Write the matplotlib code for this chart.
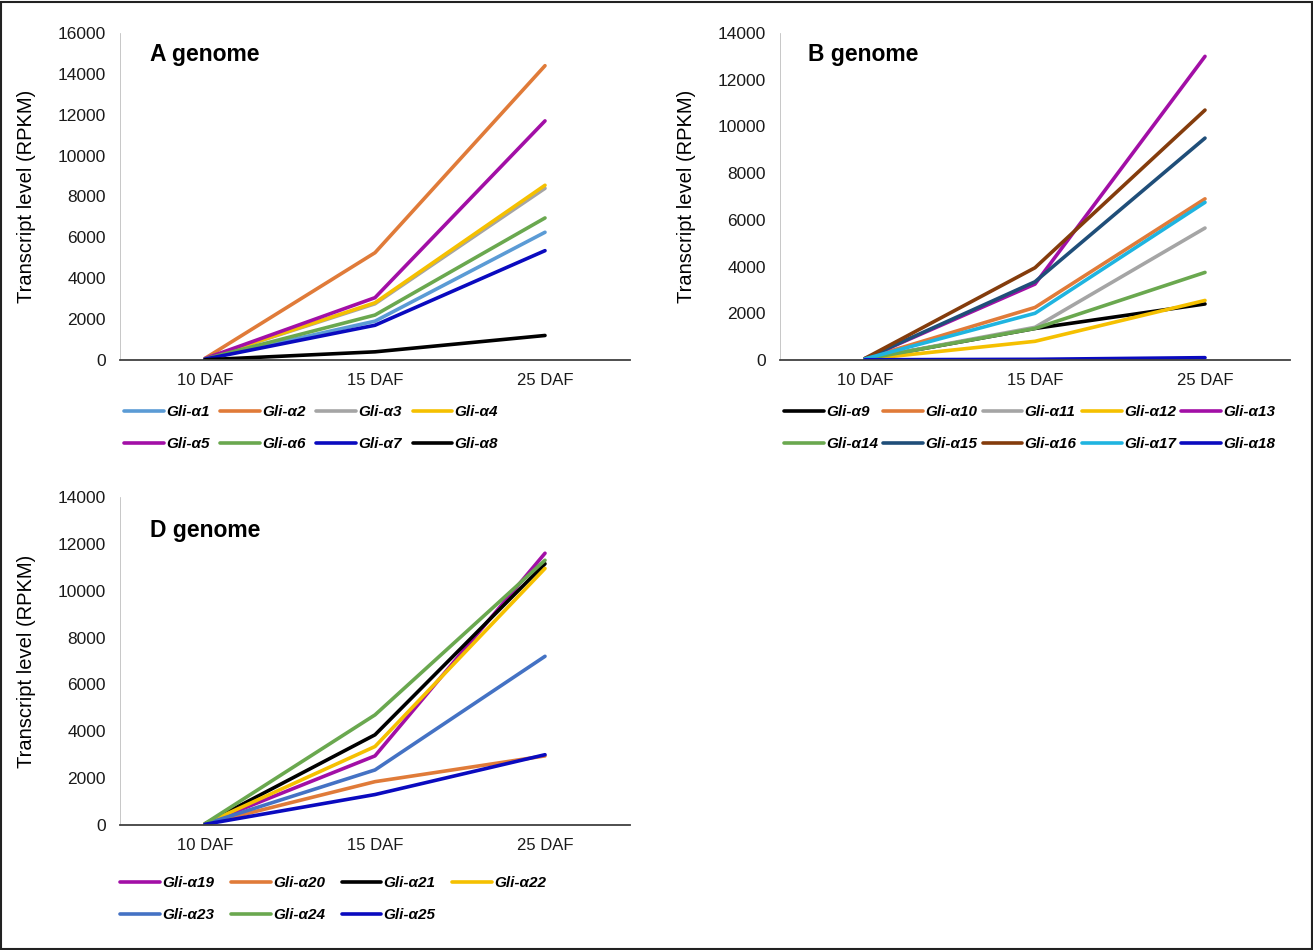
import matplotlib.pyplot as plt
from matplotlib.patches import Rectangle

plt.rcParams['font.family'] = ['Liberation Sans', 'DejaVu Sans']

days = ["10 DAF", "15 DAF", "25 DAF"]

# A genome
a_names = ["Gli-α1", "Gli-α2", "Gli-α3", "Gli-α4", "Gli-α5", "Gli-α6", "Gli-α7", "Gli-α8"]
a_vals = [
    [50, 1900, 6250],
    [80, 5250, 14400],
    [60, 2750, 8400],
    [60, 2800, 8550],
    [70, 3050, 11700],
    [50, 2200, 6950],
    [40, 1700, 5350],
    [10, 400, 1200],
]
a_colors = ["#5B9BD5", "#E07B39", "#A5A5A5", "#F5C000", "#A20FA6", "#6AA84F", "#0A0ABF", "#000000"]

# B genome
b_names = ["Gli-α9", "Gli-α10", "Gli-α11", "Gli-α12", "Gli-α13",
           "Gli-α14", "Gli-α15", "Gli-α16", "Gli-α17", "Gli-α18"]
b_vals = [
    [40, 1350, 2400],
    [60, 2250, 6900],
    [40, 1400, 5650],
    [30, 800, 2550],
    [60, 3250, 13000],
    [40, 1350, 3750],
    [60, 3350, 9500],
    [70, 3950, 10700],
    [50, 2000, 6750],
    [10, 30, 100],
]
b_colors = ["#000000", "#E07B39", "#A5A5A5", "#F5C000", "#A20FA6",
            "#6AA84F", "#1F4E79", "#843C0C", "#1FB4E0", "#0A0ABF"]

# D genome
d_names = ["Gli-α19", "Gli-α20", "Gli-α21", "Gli-α22", "Gli-α23", "Gli-α24", "Gli-α25"]
d_vals = [
    [50, 2950, 11600],
    [40, 1850, 2950],
    [50, 3850, 11150],
    [50, 3350, 10950],
    [40, 2350, 7200],
    [60, 4700, 11300],
    [30, 1300, 3000],
]
d_colors = ["#A20FA6", "#E07B39", "#000000", "#F5C000", "#4472C4", "#6AA84F", "#0A0ABF"]

W, H = 1313, 950
fig = plt.figure(figsize=(W / 100, H / 100), dpi=100)


def px_axes(x0, x1, y_top, y_bot):
    return fig.add_axes([x0 / W, 1 - y_bot / H, (x1 - x0) / W, (y_bot - y_top) / H])


def draw_panel(ax, names, vals, colors, ymax, title, tx, ty):
    x = list(range(len(days)))
    lines = []
    for n, v, c in zip(names, vals, colors):
        ln, = ax.plot(x, v, color=c, lw=2.6, label=n, solid_capstyle='round')
        lines.append(ln)
    ax.set_xlim(-0.5, 2.5)
    ax.set_ylim(0, ymax)
    ax.set_yticks(range(0, ymax + 1, 2000))
    ax.set_xticks(x)
    ax.set_xticklabels(days)
    for s in ["top", "right"]:
        ax.spines[s].set_visible(False)
    ax.spines["left"].set_color("#b0b0b0")
    ax.spines["left"].set_linewidth(0.5)
    ax.spines["bottom"].set_color("#404040")
    ax.spines["bottom"].set_linewidth(1.3)
    ax.tick_params(axis="y", length=0, labelsize=12.5, colors="#1a1a1a", pad=10)
    ax.tick_params(axis="x", length=0, labelsize=12, colors="#1a1a1a", pad=9)
    ax.set_ylabel("Transcript level (RPKM)", fontsize=14.5)
    ax.yaxis.set_label_coords(-0.165, 0.5)
    ax.text(tx, ty, title, transform=ax.transAxes, fontsize=16.5,
            fontweight="bold", va="center")
    return lines


def row_major(items, ncol):
    nrow = 2
    out = []
    for c in range(ncol):
        for r in range(nrow):
            i = r * ncol + c
            if i < len(items):
                out.append(items[i])
    return out


ax_a = px_axes(120, 630, 33, 360)
la = draw_panel(ax_a, a_names, a_vals, a_colors, 16000, "A genome", 0.059, 0.933)

ax_b = px_axes(780, 1290, 33, 360)
lb = draw_panel(ax_b, b_names, b_vals, b_colors, 14000, "B genome", 0.055, 0.933)

ax_d = px_axes(120, 630, 497, 825)
ld = draw_panel(ax_d, d_names, d_vals, d_colors, 14000, "D genome", 0.059, 0.899)

leg_font = dict(size=11, weight="bold", style="italic")
for lines, ncol, x0, y0, cs in [(la, 4, 124, 405, 0.7), (lb, 5, 784, 405, 0.35),
                                (ld, 4, 120, 876, 1.1)]:
    ordered = row_major(lines, ncol)
    fig.legend(ordered, [l.get_label() for l in ordered], loc="upper left",
               bbox_to_anchor=(x0 / W, 1 - y0 / H), ncol=ncol, frameon=False,
               prop=leg_font, handlelength=2.6, handletextpad=0.15,
               columnspacing=cs, labelspacing=1.2, borderaxespad=0, borderpad=0)

fig.patches.append(Rectangle((0.001, 0.001), 0.998, 0.997, transform=fig.transFigure,
                             fill=False, edgecolor="#222222", lw=1.5))

fig.savefig("out.png", dpi=100)
